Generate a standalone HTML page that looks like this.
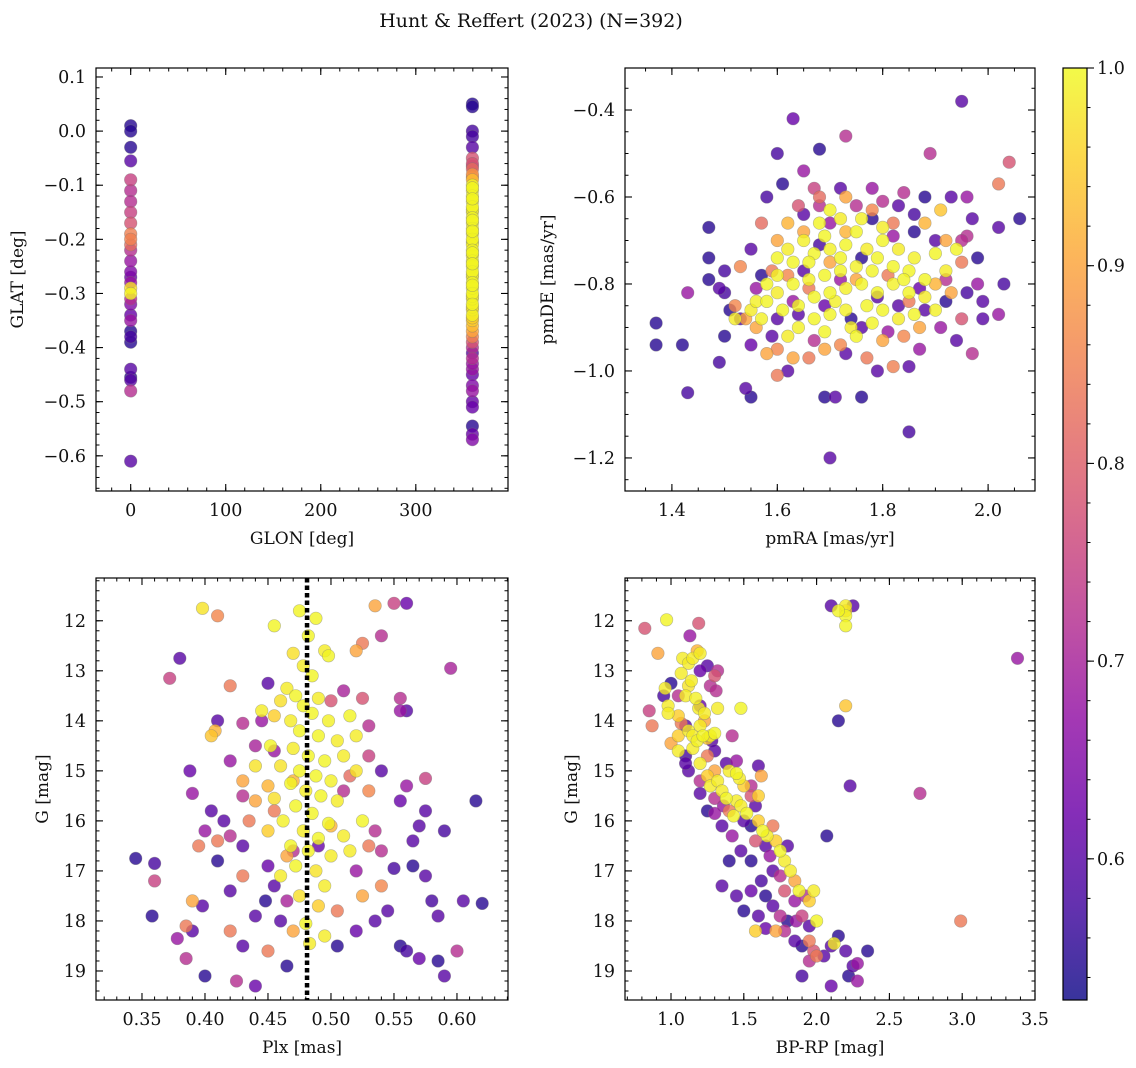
<!DOCTYPE html>
<html><head><meta charset="utf-8"><style>
html,body{margin:0;padding:0;background:#fff}
svg{display:block}
text{font-family:"DejaVu Serif","Liberation Serif",serif;fill:#111}
</style></head><body>
<svg id="fig" width="1136" height="1068" viewBox="0 0 1136 1068" xmlns="http://www.w3.org/2000/svg">
<text x="531" y="27" font-size="19" text-anchor="middle">Hunt &amp; Reffert (2023) (N=392)</text>
</svg>
<script>
// ---- data ----
const tlGlon0Lat=[0.01,0.0,-0.03,-0.055,-0.09,-0.11,-0.13,-0.15,-0.17,-0.19,-0.2,-0.21,-0.22,-0.24,-0.26,-0.27,-0.28,-0.29,-0.3,-0.31,-0.32,-0.34,-0.35,-0.37,-0.38,-0.39,-0.44,-0.455,-0.46,-0.48,-0.61];
const tlGlon0Prob=[.55,.55,.55,.6,.75,.72,.72,.75,.78,.85,.85,.82,.72,.68,.65,.62,.68,.97,.99,.72,.65,.62,.68,.55,.58,.55,.6,.55,.6,.72,.6];
const tlGlon360Lat=[0.05,0.045,0.0,-0.01,-0.03,-0.05,-0.06,-0.07,-0.08,-0.09,-0.1,-0.11,-0.12,-0.13,-0.14,-0.15,-0.16,-0.17,-0.18,-0.19,-0.2,-0.21,-0.22,-0.23,-0.24,-0.25,-0.26,-0.27,-0.28,-0.29,-0.3,-0.31,-0.32,-0.33,-0.34,-0.35,-0.36,-0.37,-0.38,-0.39,-0.4,-0.42,-0.44,-0.45,-0.47,-0.48,-0.5,-0.51,-0.545,-0.56,-0.57,-0.105,-0.125,-0.145,-0.165,-0.185,-0.205,-0.225,-0.245,-0.265,-0.285,-0.305,-0.325,-0.345,-0.065,-0.085,-0.41,-0.43];
const tlGlon360Prob=[.55,.55,.58,.58,.6,.78,.78,.82,.88,.93,.995,.99,.995,.99,.995,.985,.995,.99,.995,.985,.995,.99,.995,.985,.995,.99,.995,.985,.995,.99,.995,.985,.995,.975,.99,.95,.93,.9,.85,.78,.72,.72,.68,.62,.65,.68,.62,.62,.55,.62,.65,.995,.995,.99,.995,.995,.985,.995,.995,.99,.995,.985,.975,.95,.72,.86,.6,.68];
const trPoints=[[1.37,-0.89,.55],[1.37,-0.94,.55],[1.42,-0.94,.55],[1.43,-1.05,.58],[1.43,-0.82,.68],[1.47,-0.67,.55],[1.47,-0.74,.55],[1.47,-0.79,.55],[1.49,-0.98,.58],[1.49,-0.81,.6],[1.5,-0.77,.58],[1.51,-0.86,.55],[1.53,-0.88,.6],[1.53,-0.76,.86],[1.54,-1.04,.6],[1.55,-1.06,.55],[1.58,-0.6,.58],[1.6,-0.5,.58],[1.61,-0.57,.55],[1.63,-0.42,.62],[1.65,-0.54,.68],[1.68,-0.49,.55],[1.73,-0.46,.72],[1.68,-0.62,.72],[1.6,-1.01,.84],[1.7,-1.2,.6],[1.69,-1.06,.55],[1.71,-1.06,.6],[1.76,-1.06,.55],[1.79,-1.0,.6],[1.85,-1.14,.58],[1.85,-0.99,.6],[1.82,-0.99,.85],[1.89,-0.5,.72],[1.95,-0.38,.6],[2.04,-0.52,.78],[2.02,-0.57,.84],[2.06,-0.65,.55],[2.02,-0.67,.6],[2.03,-0.8,.58],[2.02,-0.87,.68],[1.99,-0.88,.6],[1.99,-0.84,.6],[1.97,-0.96,.72],[1.98,-0.74,.55],[1.96,-0.69,.72],[1.96,-0.6,.68],[1.93,-0.6,.6],[1.91,-0.63,.94],[1.88,-0.6,.55],[1.84,-0.59,.72],[1.8,-0.61,.72],
[1.55,-0.72,.6],[1.57,-0.78,.55],[1.6,-0.88,.6],[1.63,-0.84,.68],[1.65,-0.64,.6],[1.72,-0.58,.6],[1.78,-0.58,.68],[1.83,-0.62,.6],[1.86,-0.64,.58],[1.9,-0.7,.6],[1.92,-0.79,.72],[1.87,-0.81,.62],[1.88,-0.86,.6],[1.91,-0.9,.68],[1.94,-0.93,.6],[1.87,-0.95,.68],[1.73,-0.96,.6],[1.67,-0.93,.72],[1.62,-1.0,.6],[1.59,-0.92,.6],[1.55,-0.94,.62],[1.5,-0.92,.55],[1.5,-0.82,.58],[1.56,-0.81,.68],[1.76,-0.9,.6],[1.81,-0.91,.68],[1.83,-0.85,.6],[1.78,-0.65,.55],[1.7,-0.66,.68],[1.75,-0.62,.72],[1.82,-0.69,.68],[1.86,-0.68,.55],[1.95,-0.7,.72],[1.97,-0.65,.6],[1.98,-0.8,.68],[1.96,-0.82,.58],[1.92,-0.84,.55],[1.64,-0.87,.6],[1.69,-0.85,.62],[1.74,-0.88,.55],[1.79,-0.83,.6],[1.65,-0.77,.6],[1.72,-0.79,.68],[1.68,-0.71,.58],[1.76,-0.74,.55],
[1.52,-0.85,.86],[1.54,-0.88,.9],[1.56,-0.9,.9],[1.6,-0.95,.86],[1.63,-0.97,.9],[1.66,-0.97,.84],[1.69,-0.95,.9],[1.72,-0.94,.86],[1.58,-0.96,.9],[1.62,-0.66,.92],[1.6,-0.7,.9],[1.65,-0.68,.9],[1.73,-0.68,.92],[1.78,-0.63,.86],[1.82,-0.66,.84],[1.88,-0.66,.92],[1.92,-0.7,.9],[1.95,-0.75,.84],[1.93,-0.82,.9],[1.9,-0.8,.92],[1.87,-0.9,.9],[1.84,-0.92,.86],[1.8,-0.93,.9],[1.77,-0.97,.84],[1.73,-0.6,.9],[1.68,-0.6,.82],[1.59,-0.77,.84],[1.62,-0.78,.86],[1.66,-0.81,.84],[1.75,-0.79,.9],[1.81,-0.78,.84],[1.7,-0.75,.9],[1.85,-0.84,.84],[1.95,-0.88,.78],[1.57,-0.66,.82],[1.64,-0.62,.78],[1.67,-0.58,.75],
[1.7,-0.63,.995],[1.72,-0.65,.985],[1.75,-0.68,.995],[1.68,-0.66,.995],[1.65,-0.7,.99],[1.62,-0.72,.985],[1.6,-0.74,.995],[1.63,-0.75,.995],[1.67,-0.73,.995],[1.7,-0.72,.99],[1.73,-0.71,.995],[1.77,-0.72,.985],[1.8,-0.7,.995],[1.83,-0.72,.985],[1.86,-0.74,.99],[1.9,-0.73,.995],[1.92,-0.77,.985],[1.88,-0.79,.995],[1.85,-0.77,.995],[1.82,-0.76,.995],[1.78,-0.77,.995],[1.75,-0.76,.99],[1.72,-0.77,.995],[1.69,-0.78,.995],[1.66,-0.79,.99],[1.63,-0.8,.995],[1.6,-0.82,.985],[1.58,-0.84,.995],[1.55,-0.86,.985],[1.57,-0.88,.99],[1.61,-0.86,.995],[1.64,-0.85,.995],[1.67,-0.83,.995],[1.7,-0.82,.995],[1.73,-0.81,.99],[1.76,-0.8,.995],[1.79,-0.82,.995],[1.82,-0.8,.99],[1.85,-0.82,.995],[1.88,-0.83,.985],[1.9,-0.86,.99],[1.86,-0.87,.995],[1.8,-0.86,.995],[1.77,-0.85,.995],[1.73,-0.86,.99],[1.7,-0.87,.995],[1.67,-0.88,.995],[1.64,-0.9,.99],[1.69,-0.91,.995],[1.74,-0.9,.985],[1.78,-0.89,.995],[1.83,-0.88,.985],[1.75,-0.92,.995],[1.62,-0.92,.985],[1.52,-0.88,.985],[1.56,-0.84,.99],[1.69,-0.69,.995],[1.76,-0.65,.99],[1.8,-0.67,.985],[1.66,-0.75,.995],[1.72,-0.74,.995],[1.79,-0.74,.995],[1.84,-0.79,.995],[1.6,-0.78,.99],[1.71,-0.84,.99],[1.58,-0.8,.995],[1.94,-0.72,.995]];
const blPoints=[[0.475,11.8,.995],[0.488,11.95,.995],[0.482,12.3,.995],[0.495,12.6,.985],[0.498,12.7,.995],[0.47,12.65,.97],[0.478,12.9,.985],[0.485,13.1,.995],[0.465,13.35,.985],[0.472,13.5,.995],[0.46,13.6,.97],[0.49,13.55,.985],[0.478,13.7,.995],[0.485,13.85,.995],[0.455,13.9,.95],[0.468,14.0,.985],[0.498,14.0,.99],[0.475,14.2,.995],[0.49,14.3,.995],[0.505,14.4,.985],[0.452,14.5,.995],[0.47,14.55,.985],[0.482,14.7,.995],[0.495,14.8,.995],[0.51,14.7,.985],[0.46,14.9,.975],[0.475,15.0,.995],[0.488,15.1,.995],[0.5,15.2,.99],[0.468,15.25,.995],[0.48,15.4,.985],[0.492,15.5,.995],[0.455,15.55,.97],[0.505,15.6,.985],[0.472,15.7,.995],[0.485,15.85,.995],[0.462,16.0,.99],[0.498,16.05,.995],[0.478,16.2,.985],[0.49,16.35,.995],[0.51,16.3,.985],[0.45,16.2,.95],[0.468,16.5,.995],[0.482,16.6,.99],[0.5,16.7,.985],[0.472,16.9,.995],[0.488,17.0,.975],[0.46,17.1,.985],[0.495,17.3,.985],[0.475,17.5,.97],[0.49,17.7,.95],[0.48,18.05,.995],[0.495,18.3,.985],[0.483,18.45,.985],[0.455,12.1,.995],[0.398,11.75,.975],[0.515,13.9,.995],[0.52,14.3,.985],[0.515,16.6,.985],[0.445,13.8,.985],[0.44,14.9,.975],[0.52,15.0,.975],[0.525,16.0,.995],
[0.41,11.9,.86],[0.535,11.7,.9],[0.52,12.6,.9],[0.525,12.45,.84],[0.42,13.3,.84],[0.405,14.3,.94],[0.408,14.2,.92],[0.43,15.2,.9],[0.44,15.6,.9],[0.45,15.3,.92],[0.455,15.8,.84],[0.435,16.0,.84],[0.53,15.4,.86],[0.53,16.5,.84],[0.5,16.1,.92],[0.465,16.7,.9],[0.43,17.1,.84],[0.39,17.6,.9],[0.385,18.1,.84],[0.42,18.2,.84],[0.45,18.6,.84],[0.47,18.2,.9],[0.525,17.5,.9],[0.47,15.2,.92],[0.505,17.8,.84],[0.515,15.1,.82],[0.54,17.3,.86],[0.395,16.5,.84],[0.41,16.4,.84],[0.36,17.2,.75],
[0.55,11.65,.75],[0.56,11.65,.62],[0.54,12.3,.72],[0.38,12.75,.6],[0.372,13.15,.75],[0.45,13.25,.6],[0.525,13.55,.78],[0.555,13.55,.72],[0.555,13.8,.68],[0.56,13.8,.6],[0.595,12.95,.7],[0.41,14.0,.6],[0.43,14.05,.72],[0.445,14.0,.68],[0.42,14.8,.68],[0.388,15.0,.62],[0.39,15.45,.68],[0.405,15.8,.6],[0.415,16.0,.6],[0.4,16.2,.68],[0.42,16.3,.72],[0.43,16.5,.6],[0.41,16.8,.55],[0.345,16.75,.55],[0.36,16.85,.58],[0.358,17.9,.55],[0.378,18.35,.68],[0.385,18.75,.72],[0.39,18.2,.6],[0.398,17.7,.6],[0.4,19.1,.55],[0.425,19.2,.72],[0.44,19.3,.62],[0.43,18.5,.6],[0.44,17.9,.6],[0.448,17.6,.55],[0.455,17.3,.6],[0.45,16.9,.62],[0.46,18.0,.6],[0.465,18.9,.55],[0.505,18.5,.55],[0.52,18.2,.62],[0.535,18.0,.6],[0.545,17.8,.6],[0.555,18.5,.55],[0.56,18.6,.58],[0.57,18.75,.62],[0.585,18.8,.55],[0.59,19.1,.6],[0.6,18.6,.72],[0.605,17.6,.6],[0.62,17.65,.55],[0.615,15.6,.55],[0.59,16.2,.58],[0.58,17.6,.58],[0.585,17.9,.6],[0.575,17.1,.6],[0.565,16.9,.55],[0.55,16.95,.58],[0.565,16.4,.6],[0.57,16.1,.6],[0.575,15.8,.6],[0.575,15.15,.75],[0.56,15.3,.68],[0.555,15.6,.62],[0.54,16.6,.72],[0.52,17.0,.68],[0.535,16.2,.72],[0.51,15.4,.72],[0.53,14.7,.75],[0.53,14.1,.72],[0.5,13.6,.78],[0.51,13.4,.7],[0.54,15.0,.6],[0.49,16.5,.62],[0.455,14.6,.68],[0.44,14.5,.7],[0.43,15.5,.72],[0.42,17.4,.6],[0.47,16.6,.72],[0.465,17.6,.7]];
const brPoints=[[0.82,12.15,.78],[0.97,11.98,.995],[1.19,12.05,.78],[0.91,12.65,.9],[1.13,12.3,.68],[0.96,13.35,.985],[0.95,13.5,.58],[1.0,13.25,.55],[1.08,12.75,.985],[1.12,12.85,.985],[1.15,12.75,.985],[1.2,12.65,.985],[1.18,12.6,.92],[1.07,13.05,.985],[1.12,13.3,.975],[1.14,13.2,.985],[1.2,13.0,.62],[1.25,12.9,.6],[1.27,13.3,.72],[1.31,13.4,.72],[0.85,13.8,.75],[0.87,14.1,.84],[0.98,13.7,.985],[0.98,13.85,.985],[1.05,13.5,.72],[1.1,13.5,.985],[1.17,13.55,.99],[1.19,13.75,.985],[1.2,13.7,.62],[1.23,13.85,.985],[1.23,14.0,.9],[1.32,13.75,.985],[1.05,13.9,.95],[1.07,14.05,.84],[1.1,14.1,.6],[1.12,14.2,.985],[1.15,14.3,.985],[1.18,14.4,.99],[1.2,14.1,.985],[1.22,14.3,.995],[1.25,14.35,.95],[1.28,14.4,.6],[1.3,14.6,.6],[1.0,14.45,.9],[1.05,14.6,.985],[1.1,14.7,.58],[1.15,14.55,.985],[1.2,14.85,.985],[1.25,14.7,.84],[1.27,14.3,.985],[1.05,14.3,.95],[1.3,14.25,.995],[1.12,15.0,.6],[1.2,15.2,.72],[1.25,15.1,.95],[1.27,15.3,.985],[1.3,15.0,.9],[1.32,15.2,.985],[1.35,15.4,.985],[1.38,15.55,.995],[1.4,15.0,.985],[1.45,15.05,.995],[1.47,15.15,.985],[1.5,15.3,.95],[1.3,15.55,.72],[1.36,15.7,.68],[1.4,15.8,.84],[1.43,15.9,.995],[1.45,15.6,.985],[1.48,15.7,.985],[1.52,15.85,.995],[1.55,15.5,.78],[1.58,15.7,.6],[1.6,15.5,.95],[1.5,16.0,.6],[1.55,16.1,.55],[1.6,16.0,.95],[1.63,16.2,.995],[1.66,16.3,.985],[1.7,16.1,.84],[1.72,16.4,.95],[1.65,16.5,.6],[1.68,16.7,.68],[1.58,16.4,.78],[1.55,16.8,.55],[1.75,16.6,.995],[1.78,16.8,.985],[1.8,16.5,.6],[1.82,17.0,.985],[1.85,17.2,.9],[1.7,17.0,.6],[1.75,17.1,.72],[1.62,17.2,.58],[1.65,17.5,.55],[1.78,17.4,.78],[1.88,17.4,.995],[1.92,17.5,.72],[1.95,17.6,.95],[1.98,17.4,.985],[1.85,17.6,.68],[1.7,17.7,.6],[1.75,17.9,.72],[1.8,18.0,.55],[1.86,18.0,.68],[1.9,17.9,.75],[1.95,18.1,.6],[2.0,18.0,.995],[1.72,18.2,.9],[1.78,18.2,.72],[1.85,18.4,.6],[1.9,18.5,.55],[1.95,18.4,.84],[1.98,18.6,.78],[2.0,18.7,.84],[1.95,18.8,.72],[2.05,18.7,.6],[2.1,18.5,.6],[2.15,18.3,.55],[2.12,18.45,.985],[2.2,18.6,.6],[2.25,18.9,.6],[2.28,18.85,.68],[2.35,18.6,.55],[2.28,19.2,.68],[2.1,19.3,.62],[1.9,19.1,.58],[2.22,19.1,.55],[1.4,16.8,.55],[1.35,17.3,.6],[1.45,17.5,.6],[1.55,17.4,.62],[1.5,17.8,.55],[1.6,17.9,.6],[1.65,18.15,.62],[1.58,18.2,.95],[1.48,16.6,.6],[1.42,16.3,.68],[1.35,16.1,.6],[1.3,15.85,.68],[1.2,15.45,.6],[1.25,15.8,.55],[1.6,14.9,.6],[1.55,15.3,.72],[1.45,14.8,.68],[1.38,14.85,.6],[1.42,14.3,.72],[1.48,13.75,.995],[1.32,13.0,.72],[1.3,13.1,.78],[1.62,15.1,.9],[1.1,14.85,.6],
[2.1,11.7,.6],[2.25,11.7,.6],[2.2,11.7,.985],[2.2,11.8,.95],[2.2,11.9,.995],[2.2,12.1,.995],[2.15,11.8,.995],[2.2,13.7,.94],[2.15,14.0,.55],[2.23,15.3,.6],[2.71,15.45,.72],[2.99,18.0,.84],[3.38,12.75,.68],[2.07,16.3,.55]];
const plxLine=[0.481];
const tlXTicks=[0,100,200,300], tlYTicks=[0.1,0,-0.1,-0.2,-0.3,-0.4,-0.5,-0.6];
const trXTicks=[1.4,1.6,1.8,2.0], trYTicks=[-0.4,-0.6,-0.8,-1.0,-1.2];
const blXTicks=[0.35,0.40,0.45,0.50,0.55,0.60], gTicks=[12,13,14,15,16,17,18,19];
const brXTicks=[1.0,1.5,2.0,2.5,3.0,3.5];
const cbTicks=[0.6,0.7,0.8,0.9,1.0];

const NS="http://www.w3.org/2000/svg";
const svg=document.getElementById('fig');
function el(tag,attrs,parent){const e=document.createElementNS(NS,tag);for(const k in attrs)e.setAttribute(k,attrs[k]);(parent||svg).appendChild(e);return e;}
const PMIN=0.5286,PMAX=1.0;
const stops=[[0,[13,8,135]],[0.1,[65,4,157]],[0.2,[106,0,168]],[0.3,[143,13,164]],[0.4,[177,42,144]],[0.5,[204,71,120]],[0.6,[225,100,98]],[0.7,[242,132,75]],[0.8,[252,166,54]],[0.9,[252,206,37]],[1,[240,249,33]]];
function cmap(p){let t=(p-PMIN)/(PMAX-PMIN);t=Math.max(0,Math.min(1,t));for(let i=1;i<stops.length;i++){if(t<=stops[i][0]){const a=stops[i-1],b=stops[i];const f=(t-a[0])/(b[0]-a[0]);const c=a[1].map((v,j)=>Math.round(v+(b[1][j]-v)*f));return `rgb(${c})`;}}return 'rgb(240,249,33)';}
function fmt(v,d){return (v<0?'\u2212':'')+Math.abs(v).toFixed(d);}

function panel(o){
  const g=el('g',{});
  
  
  const sx=v=>o.x0+(v-o.xmin)/(o.xmax-o.xmin)*(o.x1-o.x0);
  const sy=v=>o.inv? o.y0+(v-o.ymin)/(o.ymax-o.ymin)*(o.y1-o.y0) : o.y1-(v-o.ymin)/(o.ymax-o.ymin)*(o.y1-o.y0);
  const pts=o.points.slice().sort((a,b)=>a[2]-b[2]);
  const mg=el('g',{},g);
  
  
  for(const p of pts){
    const c=el('circle',{cx:sx(p[0]).toFixed(1),cy:sy(p[1]).toFixed(1),r:6.3,fill:cmap(p[2]),'fill-opacity':0.8,stroke:'#777','stroke-opacity':0.5,'stroke-width':0.6},mg);
    
    
  }
  if(o.vline){for(const v of o.vline){const l=el('line',{x1:sx(v),x2:sx(v),y1:o.y0,y2:o.y1,stroke:'#000','stroke-width':4.5,'stroke-dasharray':'4.5 3'},g);
    
    }}
  const fr=el('rect',{x:o.x0,y:o.y0,width:o.x1-o.x0,height:o.y1-o.y0,fill:'none',stroke:'#000','stroke-width':1.2},g);
  
  
  for(let v=Math.ceil(o.xmin/o.xminor-1e-9)*o.xminor;v<=o.xmax+1e-9;v+=o.xminor){const X=sx(v);el('line',{x1:X,x2:X,y1:o.y1,y2:o.y1-3.5,stroke:'#000'},g);el('line',{x1:X,x2:X,y1:o.y0,y2:o.y0+3.5,stroke:'#000'},g);}
  for(let v=Math.ceil(o.ymin/o.yminor-1e-9)*o.yminor;v<=o.ymax+1e-9;v+=o.yminor){const Y=sy(v);el('line',{x1:o.x0,x2:o.x0+3.5,y1:Y,y2:Y,stroke:'#000'},g);el('line',{x1:o.x1,x2:o.x1-3.5,y1:Y,y2:Y,stroke:'#000'},g);}
  for(const v of o.xticks){const X=sx(v);el('line',{x1:X,x2:X,y1:o.y1,y2:o.y1-7,stroke:'#000','stroke-width':1.1},g);el('line',{x1:X,x2:X,y1:o.y0,y2:o.y0+7,stroke:'#000','stroke-width':1.1},g);
    const t=el('text',{x:X,y:o.y1+25,'font-size':17.5,'text-anchor':'middle'},g);t.textContent=fmt(v,o.xd);
    
    }
  for(const v of o.yticks){const Y=sy(v);el('line',{x1:o.x0,x2:o.x0+7,y1:Y,y2:Y,stroke:'#000','stroke-width':1.1},g);el('line',{x1:o.x1,x2:o.x1-7,y1:Y,y2:Y,stroke:'#000','stroke-width':1.1},g);
    const t=el('text',{x:o.x0-10,y:Y+6,'font-size':17.5,'text-anchor':'end'},g);t.textContent=fmt(v,o.yd);
    
    }
  const xl=el('text',{x:(o.x0+o.x1)/2,y:o.y1+53,'font-size':17,'text-anchor':'middle'},g);xl.textContent=o.xlabel;
  
  
  const yx=o.ylx,yy=(o.y0+o.y1)/2;
  const yl=el('text',{x:yx,y:yy,'font-size':17,'text-anchor':'middle',transform:`rotate(-90 ${yx} ${yy})`},g);yl.textContent=o.ylabel;
  
  
}
const tlPts=tlGlon0Lat.map((v,i)=>[0,v,tlGlon0Prob[i]]).concat(tlGlon360Lat.map((v,i)=>[359.5,v,tlGlon360Prob[i]]));
panel({name:'glon-glat-panel',points:tlPts,x0:96,x1:508,y0:68,y1:491,xmin:-36.5,xmax:397,ymin:-0.665,ymax:0.1166,xticks:tlXTicks,yticks:tlYTicks,xminor:20,yminor:0.02,xd:0,yd:1,xlabel:'GLON [deg]',ylabel:'GLAT [deg]',ylx:23});
panel({name:'pm-panel',points:trPoints,x0:625,x1:1035,y0:68,y1:491,xmin:1.311,xmax:2.089,ymin:-1.276,ymax:-0.3034,xticks:trXTicks,yticks:trYTicks,xminor:0.05,yminor:0.05,xd:1,yd:1,xlabel:'pmRA [mas/yr]',ylabel:'pmDE [mas/yr]',ylx:553});
panel({name:'plx-g-panel',points:blPoints,vline:plxLine,inv:true,x0:96,x1:508,y0:578,y1:1000,xmin:0.3135,xmax:0.6405,ymin:11.145,ymax:19.58,xticks:blXTicks,yticks:gTicks,xminor:0.01,yminor:0.2,xd:2,yd:0,xlabel:'Plx [mas]',ylabel:'G [mag]',ylx:48});
panel({name:'cmd-panel',points:brPoints,inv:true,x0:625,x1:1035,y0:578,y1:1000,xmin:0.684,xmax:3.5,ymin:11.145,ymax:19.58,xticks:brXTicks,yticks:gTicks,xminor:0.1,yminor:0.2,xd:1,yd:0,xlabel:'BP-RP [mag]',ylabel:'G [mag]',ylx:577});
const cb=el('g',{});


const defs=el('defs',{},cb);
const lg=el('linearGradient',{id:'cbg',x1:0,y1:1,x2:0,y2:0},defs);
for(let i=0;i<=20;i++){const f=i/20;el('stop',{offset:f,'stop-color':cmap(PMIN+f*(PMAX-PMIN)),'stop-opacity':0.82},lg);}
const CB={x0:1063,x1:1087,y0:68,y1:1000};
el('rect',{x:CB.x0,y:CB.y0,width:CB.x1-CB.x0,height:CB.y1-CB.y0,fill:'url(#cbg)',stroke:'#000','stroke-width':1.2},cb);
const cy=v=>CB.y1-(v-PMIN)/(PMAX-PMIN)*(CB.y1-CB.y0);
for(let v=0.54;v<=1.0001;v+=0.02){const Y=cy(v);el('line',{x1:CB.x1,x2:CB.x1+3.5,y1:Y,y2:Y,stroke:'#000'},cb);}
for(const v of cbTicks){const Y=cy(v);el('line',{x1:CB.x1,x2:CB.x1+7,y1:Y,y2:Y,stroke:'#000','stroke-width':1.1},cb);
  const t=el('text',{x:CB.x1+10,y:Y+6,'font-size':17.5},cb);t.textContent=v.toFixed(1);
  
  }
</script>
</body></html>
